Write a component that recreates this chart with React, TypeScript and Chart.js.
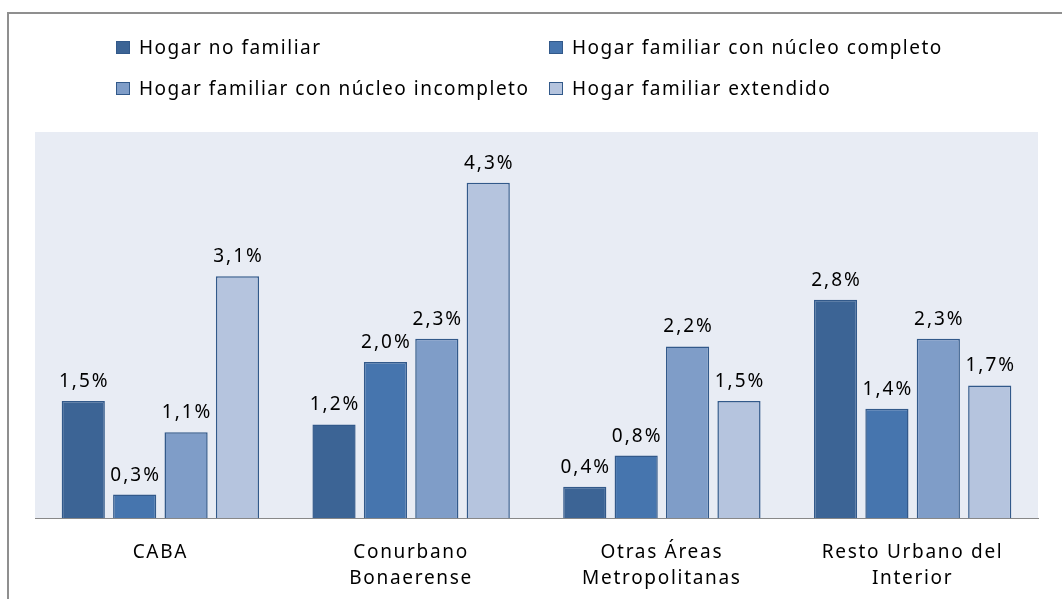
import React, { useEffect, useRef } from "react";
import { Chart, registerables } from "chart.js";
Chart.register(...registerables);

const categories: (string | string[])[] = [
  "CABA",
  ["Conurbano", "Bonaerense"],
  ["Otras Áreas", "Metropolitanas"],
  ["Resto Urbano del", "Interior"],
];
const seriesNames = [
  "Hogar no familiar",
  "Hogar familiar con núcleo completo",
  "Hogar familiar con núcleo incompleto",
  "Hogar familiar extendido",
];
const hogarNoFamiliar = [1.5, 1.2, 0.4, 2.8];
const nucleoCompleto = [0.3, 2.0, 0.8, 1.4];
const nucleoIncompleto = [1.1, 2.3, 2.2, 2.3];
const hogarExtendido = [3.1, 4.3, 1.5, 1.7];
const yMin = 0;
const yMax = 4.95;

const seriesColors = ["#3c6495", "#4675ae", "#7f9dc8", "#b5c4de"];
const borderColor = "#32598a";
const FONT = '"Noto Sans", "Open Sans", sans-serif';

const bgPlugin = {
  id: "plotBg",
  beforeDraw(chart: any) {
    const { ctx, chartArea } = chart;
    ctx.save();
    ctx.fillStyle = "#e8ecf4";
    ctx.fillRect(chartArea.left, chartArea.top, chartArea.right - chartArea.left, chartArea.bottom - chartArea.top);
    ctx.restore();
    (ctx as any).letterSpacing = "1.7px";
  },
};

const labelPlugin = {
  id: "valueLabels",
  afterDatasetsDraw(chart: any) {
    const ctx = chart.ctx;
    ctx.save();
    ctx.font = `19px ${FONT}`;
    (ctx as any).letterSpacing = "2px";
    ctx.fillStyle = "#000";
    ctx.textAlign = "center";
    ctx.textBaseline = "alphabetic";
    chart.data.datasets.forEach((ds: any, i: number) => {
      const meta = chart.getDatasetMeta(i);
      meta.data.forEach((bar: any, j: number) => {
        const v = ds.data[j] as number;
        const txt = v.toFixed(1).replace(".", ",") + "%";
        ctx.fillText(txt, bar.x + 1, bar.y - 14);
      });
    });
    ctx.restore();
  },
};

export default function App() {
  const ref = useRef<HTMLCanvasElement>(null);
  useEffect(() => {
    if (!ref.current) return;
    const seriesData = [hogarNoFamiliar, nucleoCompleto, nucleoIncompleto, hogarExtendido];
    const chart = new Chart(ref.current, {
      type: "bar",
      data: {
        labels: categories as any,
        datasets: seriesData.map((d, i) => ({
          label: seriesNames[i],
          data: d,
          backgroundColor: seriesColors[i],
          borderColor: borderColor,
          borderWidth: 1.5,
          borderSkipped: "start",
          categoryPercentage: 0.82,
          barPercentage: 0.84,
        })),
      },
      options: {
        responsive: false,
        animation: false,
        devicePixelRatio: 1,
        layout: { padding: { left: 35, right: 24, top: 132, bottom: 0 } },
        plugins: {
          legend: { display: false },
          tooltip: { enabled: false },
          title: { display: false },
        },
        scales: {
          y: { display: false, min: yMin, max: yMax },
          x: {
            grid: { display: false, drawTicks: false },
            border: { display: true, color: "#888888", width: 1 },
            ticks: {
              color: "#000",
              padding: 22,
              maxRotation: 0,
              autoSkip: false,
              font: { family: FONT, size: 19, lineHeight: 1.37 },
            },
            afterFit(scale: any) {
              scale.height = 81;
            },
          },
        },
      },
      plugins: [bgPlugin, labelPlugin],
    });
    return () => chart.destroy();
  }, []);

  const legendPos = [
    { x: 116, y: 47 },
    { x: 549, y: 47 },
    { x: 116, y: 88 },
    { x: 549, y: 88 },
  ];

  return (
    <div style={{ position: "absolute", left: 0, top: 0, width: 1062, height: 599, overflow: "hidden", background: "#fff" }}>
      <div
        style={{
          position: "absolute",
          left: 7,
          top: 12,
          width: 2000,
          height: 2000,
          borderLeft: "2px solid #8f8f8f",
          borderTop: "2px solid #8f8f8f",
        }}
      />
      <canvas ref={ref} width={1062} height={599} style={{ position: "absolute", left: 0, top: 0, width: 1062, height: 599 }} />
      {seriesNames.map((name, i) => (
        <div
          key={name}
          style={{
            position: "absolute",
            left: legendPos[i].x,
            top: legendPos[i].y - 13,
            height: 26,
            display: "flex",
            alignItems: "center",
            fontFamily: FONT,
            fontSize: 19,
            letterSpacing: "1.5px",
            color: "#000",
            whiteSpace: "nowrap",
          }}
        >
          <span
            style={{
              display: "inline-block",
              width: 12,
              height: 11,
              background: seriesColors[i],
              border: `1px solid ${borderColor}`,
              marginRight: 9,
            }}
          />
          {name}
        </div>
      ))}
    </div>
  );
}
